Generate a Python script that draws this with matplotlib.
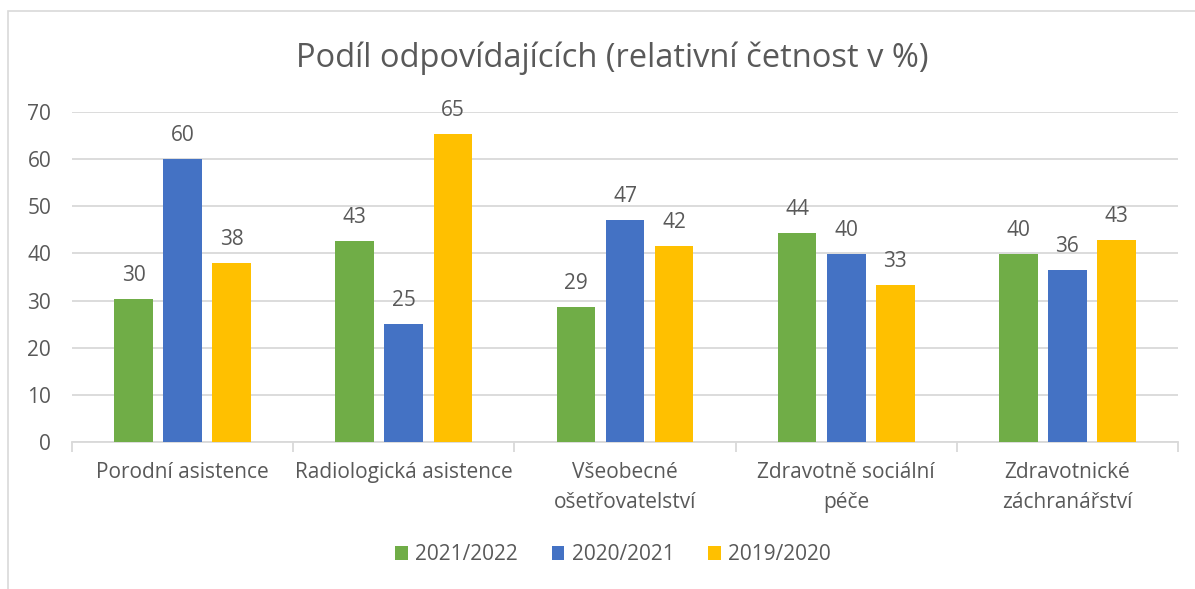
import matplotlib
matplotlib.use("Agg")
import matplotlib.pyplot as plt
import numpy as np
from matplotlib.patches import Rectangle

categories = ["Porodní asistence", "Radiologická asistence", "Všeobecné\nošetřovatelství",
              "Zdravotně sociální\npéče", "Zdravotnické\nzáchranářství"]
series_names = ["2021/2022", "2020/2021", "2019/2020"]
v2021_2022 = [30.3, 42.6, 28.7, 44.4, 39.9]
v2020_2021 = [60.0, 25.0, 47.1, 39.9, 36.4]
v2019_2020 = [38.0, 65.2, 41.6, 33.3, 42.8]
colors = ["#70AD47", "#4472C4", "#FFC000"]
yticks = [0, 10, 20, 30, 40, 50, 60, 70]
title = "Podíl odpovídajících (relativní četnost v %)"

plt.rcParams['font.family'] = ['Open Sans', 'DejaVu Sans']
txt = "#595959"
grid = "#D9D9D9"

W, H = 1195, 589
fig = plt.figure(figsize=(W/100, H/100), dpi=100)
fig.patches.append(Rectangle((8/W, -20/H), (W+20)/W, (H-11+20)/H, transform=fig.transFigure,
                             fill=False, edgecolor=grid, lw=1.2))
x0, x1, y0, y1 = 72, 1178, 442.3, 111.7
ax = fig.add_axes([x0/W, (H-y0)/H, (x1-x0)/W, (y0-y1)/H])

series = [v2021_2022, v2020_2021, v2019_2020]
n = len(categories)
x = np.arange(n)
bw = 0.175
step = 0.222
for i, (vals, c, name) in enumerate(zip(series, colors, series_names)):
    pos = x + (i - 1) * step
    ax.bar(pos, vals, width=bw, color=c, label=name, zorder=3)
    for p, v in zip(pos, vals):
        ax.text(p, v + 3.8, f"{v:.0f}", ha="center", va="baseline", fontsize=15, color=txt)

ax.set_xlim(-0.5, n - 0.5)
ax.set_ylim(0, 70)
ax.set_yticks(yticks)
ax.set_yticklabels([str(t) for t in yticks], fontsize=15, color=txt)
ax.yaxis.grid(True, color=grid, lw=1.3, zorder=0)
ax.tick_params(axis="y", length=0, pad=15)
ax.set_xticks(x)
ax.set_xticklabels(categories, fontsize=15, color=txt, linespacing=1.55)
ax.set_xticks(np.arange(n + 1) - 0.5, minor=True)
ax.tick_params(axis="x", which="major", length=0, pad=14)
ax.tick_params(axis="x", which="minor", length=7, color=grid, width=1.3)
for s in ["top", "right", "left"]:
    ax.spines[s].set_visible(False)
ax.spines["bottom"].set_color(grid)
ax.spines["bottom"].set_linewidth(1.3)

fig.text(612 / W, 1 - 58 / H, title, ha="center", va="center", fontsize=23.5, color=txt)

fig.legend(loc="center", bbox_to_anchor=(613 / W, 1 - 555 / H), ncol=3, frameon=False,
           fontsize=15, handlelength=0.62, handleheight=0.62, handletextpad=0.35,
           columnspacing=1.6, labelcolor=txt)

fig.savefig("out.png", dpi=100)
